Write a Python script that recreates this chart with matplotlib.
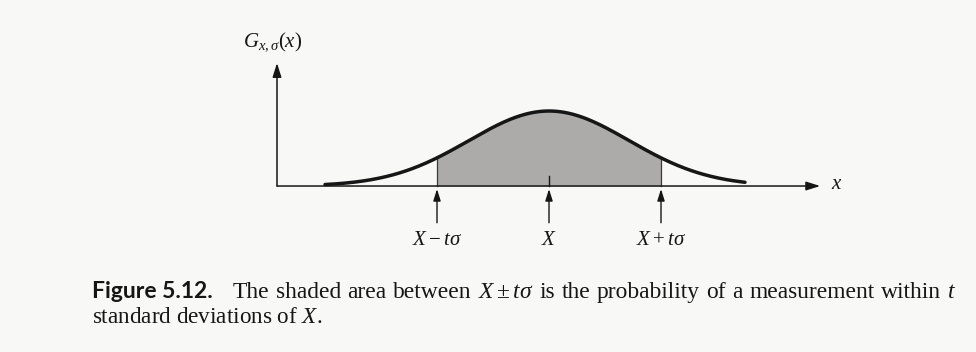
"""Gaussian G_{X,sigma}(x) with the area between X - t*sigma and X + t*sigma shaded."""

import matplotlib

matplotlib.use("Agg")

import matplotlib.pyplot as plt
import numpy as np

plt.rcParams["mathtext.fontset"] = "custom"
plt.rcParams["mathtext.rm"] = "Liberation Serif"
plt.rcParams["mathtext.it"] = "Liberation Serif:italic"
plt.rcParams["mathtext.bf"] = "Liberation Serif:bold"

INK = "#161616"
SHADE = "#adabaa"
PAPER = "#f8f8f7"

# distribution, in units of sigma about the mean X
MEAN = 0.0
SIGMA = 1.0
T = 1.4
CURVE_RANGE = (-2.8, 2.45)

# marked positions below the axis
MARK_OFFSETS = [-T, 0.0, T]
MARK_LABELS = [r"$X - t\sigma$", r"$X$", r"$X + t\sigma$"]

CAPTION_HEAD = "Figure 5.12."
CAPTION_LINE1 = r"The shaded area between $X \pm t\sigma$ is the probability of a measurement within $t$"
CAPTION_LINE2 = r"standard deviations of $X$."


def gauss(x):
    return np.exp(-((x - MEAN) ** 2) / (2 * SIGMA**2))


def split_words(line):
    # keep $...$ chunks whole
    tokens, buf = [], ""
    for part in line.split(" "):
        buf = (buf + " " + part) if buf else part
        if buf.count("$") % 2 == 0:
            tokens.append(buf)
            buf = ""
    return tokens


def justified(fig, words, x_start, x_end, y, **kw):
    """Set words on one line, spreading the gaps so the line runs x_start..x_end (figure px)."""
    renderer = fig.canvas.get_renderer()
    items = [fig.text(0, y, w, ha="left", va="baseline", **kw) for w in words]
    fig.canvas.draw()
    widths = [t.get_window_extent(renderer=renderer).width for t in items]
    gap = (x_end - x_start - sum(widths)) / (len(words) - 1)
    x = x_start
    for t, w in zip(items, widths):
        t.set_x(x / fig.bbox.width)
        x += w + gap


def main():
    fig = plt.figure(figsize=(9.76, 3.52), dpi=100)
    fig.patch.set_facecolor(PAPER)
    ax = fig.add_axes([0, 0, 1, 1])
    ax.set_facecolor(PAPER)
    ax.set_xlim(-6.8625, 5.3375)
    ax.set_ylim(-2.213, 2.48)
    ax.axis("off")

    x_left, x_right = -3.4, 3.39
    y_top = 1.64
    head = dict(arrowstyle="-|>,head_length=0.7,head_width=0.22", color=INK, lw=1.1,
                shrinkA=0, shrinkB=0, mutation_scale=12)

    # shaded band under the curve
    xs = np.linspace(MEAN - T * SIGMA, MEAN + T * SIGMA, 300)
    ax.fill_between(xs, 0, gauss(xs), color=SHADE, lw=0, zorder=1)
    for xb in (MEAN - T * SIGMA, MEAN + T * SIGMA):
        ax.plot([xb, xb], [0, gauss(xb)], color="#3a3a3a", lw=0.9, zorder=2)
    ax.plot([MEAN, MEAN], [0, 0.13], color=INK, lw=1.0, zorder=2)

    # axes with arrowheads
    ax.annotate("", xy=(x_right, 0), xytext=(x_left, 0), arrowprops=head, zorder=3)
    ax.annotate("", xy=(x_left, y_top), xytext=(x_left, 0), arrowprops=head, zorder=3)
    ax.text(x_right + 0.13, 0.04, r"$x$", ha="left", va="center", fontsize=15, color=INK)
    ax.text(-3.83, 1.92, r"$G_{x,\sigma}(x)$", ha="left", va="center", fontsize=15, color=INK)

    # the curve itself
    xc = np.linspace(*CURVE_RANGE, 400)
    ax.plot(xc, gauss(xc), color=INK, lw=2.5, solid_capstyle="round", zorder=4)

    # pointers and labels below the axis
    for off, lab in zip(MARK_OFFSETS, MARK_LABELS):
        xm = MEAN + off * SIGMA
        ax.annotate("", xy=(xm, -0.04), xytext=(xm, -0.49),
                    arrowprops=dict(head, lw=1.0, mutation_scale=10))
        ax.text(xm, -0.70, lab, ha="center", va="center", fontsize=15, color=INK)

    # caption: bold sans label, then a justified serif first line
    x0, y1, y2 = 92 / 976, 1 - 298 / 352, 1 - 323 / 352
    fig.text(x0, y1, CAPTION_HEAD, ha="left", va="baseline", fontsize=16.5,
             fontweight="bold", family="Lato", color=INK)
    justified(fig, split_words(CAPTION_LINE1), 233, 956, y1,
              fontsize=16.9, family="Liberation Serif", color=INK)
    fig.text(x0, y2, CAPTION_LINE2, ha="left", va="baseline", fontsize=16.7,
             family="Liberation Serif", color=INK)

    fig.savefig("out.png", dpi=100, facecolor=PAPER)
    plt.close(fig)


if __name__ == "__main__":
    main()
